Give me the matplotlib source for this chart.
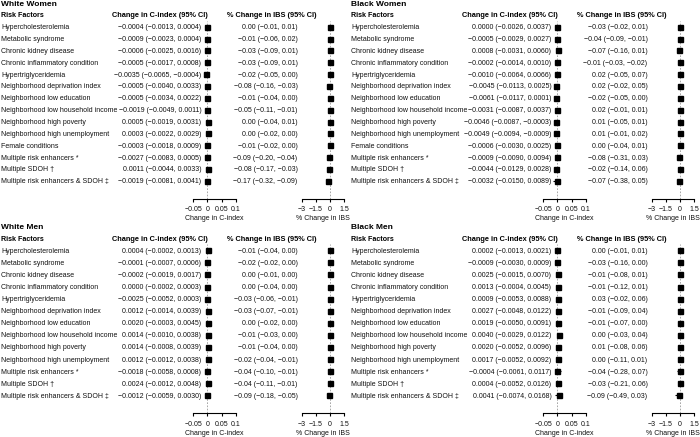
import matplotlib
matplotlib.use("Agg")
import matplotlib.pyplot as plt
from matplotlib.transforms import blended_transform_factory

plt.rcParams['font.family'] = ['Liberation Sans', 'DejaVu Sans']
plt.rcParams['axes.unicode_minus'] = True

# ---------------- data ----------------
women_factors = ["Hypercholesterolemia", "Metabolic syndrome", "Chronic kidney disease",
                 "Chronic inflammatory condition", "Hypertriglyceridemia",
                 "Neighborhood deprivation index", "Neighborhood low education",
                 "Neighborhood low household income", "Neighborhood high poverty",
                 "Neighborhood high unemployment", "Female conditions",
                 "Multiple risk enhancers *", "Multiple SDOH \u2020",
                 "Multiple risk enhancers & SDOH \u2021"]
men_factors = ["Hypercholesterolemia", "Metabolic syndrome", "Chronic kidney disease",
               "Chronic inflammatory condition", "Hypertriglyceridemia",
               "Neighborhood deprivation index", "Neighborhood low education",
               "Neighborhood low household income", "Neighborhood high poverty",
               "Neighborhood high unemployment",
               "Multiple risk enhancers *", "Multiple SDOH \u2020",
               "Multiple risk enhancers & SDOH \u2021"]

# White Women
ww_c = [-0.0004, -0.0009, -0.0006, -0.0005, -0.0035, -0.0005, -0.0005, -0.0019, 0.0005, 0.0003, -0.0003, -0.0027, 0.0011, -0.0019]
ww_c_lo = [-0.0013, -0.0023, -0.0025, -0.0017, -0.0065, -0.0040, -0.0034, -0.0049, -0.0019, -0.0022, -0.0018, -0.0083, -0.0044, -0.0081]
ww_c_hi = [0.0004, 0.0004, 0.0016, 0.0008, -0.0004, 0.0033, 0.0022, 0.0011, 0.0031, 0.0029, 0.0009, 0.0005, 0.0033, 0.0041]
ww_i = [0.00, -0.01, -0.03, -0.03, -0.02, -0.08, -0.01, -0.05, 0.00, 0.00, -0.01, -0.09, -0.08, -0.17]
ww_i_lo = [-0.01, -0.06, -0.09, -0.09, -0.05, -0.16, -0.04, -0.11, -0.04, -0.02, -0.02, -0.20, -0.17, -0.32]
ww_i_hi = [0.01, 0.02, 0.01, 0.01, 0.00, -0.03, 0.00, -0.01, 0.01, 0.00, 0.00, -0.04, -0.03, -0.09]

# Black Women
bw_c = [0.0000, -0.0005, 0.0008, -0.0002, -0.0010, -0.0045, -0.0061, -0.0031, -0.0046, -0.0049, -0.0006, -0.0009, -0.0044, -0.0032]
bw_c_lo = [-0.0026, -0.0029, -0.0031, -0.0014, -0.0064, -0.0113, -0.0117, -0.0087, -0.0087, -0.0094, -0.0030, -0.0090, -0.0129, -0.0150]
bw_c_hi = [0.0037, 0.0027, 0.0060, 0.0010, 0.0066, 0.0025, 0.0001, 0.0037, -0.0003, -0.0009, 0.0025, 0.0094, 0.0028, 0.0089]
bw_i = [-0.03, -0.04, -0.07, -0.01, 0.02, 0.02, -0.02, 0.02, 0.01, 0.01, 0.00, -0.08, -0.02, -0.07]
bw_i_lo = [-0.02, -0.09, -0.16, -0.03, -0.05, -0.02, -0.05, -0.01, -0.05, -0.01, -0.04, -0.31, -0.14, -0.38]
bw_i_hi = [0.01, -0.01, 0.01, -0.02, 0.07, 0.05, 0.00, 0.01, 0.01, 0.02, 0.01, 0.03, 0.06, 0.05]

# White Men
wm_c = [0.0004, -0.0001, -0.0002, 0.0000, -0.0025, 0.0012, 0.0020, 0.0014, 0.0014, 0.0012, -0.0018, 0.0024, -0.0012]
wm_c_lo = [-0.0002, -0.0007, -0.0019, -0.0002, -0.0052, -0.0014, -0.0003, -0.0010, -0.0008, -0.0012, -0.0058, -0.0012, -0.0059]
wm_c_hi = [0.0013, 0.0006, 0.0017, 0.0003, 0.0003, 0.0039, 0.0045, 0.0038, 0.0039, 0.0038, 0.0008, 0.0048, 0.0030]
wm_i = [-0.01, -0.02, 0.00, 0.00, -0.03, -0.03, 0.00, -0.01, -0.01, -0.02, -0.04, -0.04, -0.09]
wm_i_lo = [-0.04, -0.02, -0.01, -0.04, -0.06, -0.07, -0.02, -0.03, -0.04, -0.04, -0.10, -0.11, -0.18]
wm_i_hi = [0.00, 0.00, 0.00, 0.00, -0.01, -0.01, 0.00, 0.00, 0.00, -0.01, -0.01, -0.01, -0.05]

# Black Men
bm_c = [0.0002, -0.0009, 0.0025, 0.0013, 0.0009, 0.0027, 0.0019, 0.0040, 0.0020, 0.0017, -0.0004, 0.0004, 0.0041]
bm_c_lo = [-0.0013, -0.0030, -0.0015, -0.0004, -0.0053, -0.0048, -0.0050, -0.0029, -0.0052, -0.0052, -0.0061, -0.0052, -0.0074]
bm_c_hi = [0.0021, 0.0009, 0.0070, 0.0045, 0.0088, 0.0122, 0.0091, 0.0122, 0.0096, 0.0092, 0.0117, 0.0126, 0.0168]
bm_i = [0.00, -0.03, -0.01, -0.01, 0.03, -0.01, -0.01, 0.00, 0.01, 0.00, -0.04, -0.03, -0.09]
bm_i_lo = [-0.01, -0.16, -0.08, -0.12, -0.02, -0.09, -0.07, -0.03, -0.08, -0.11, -0.28, -0.21, -0.49]
bm_i_hi = [0.01, 0.00, 0.01, 0.01, 0.06, 0.04, 0.00, 0.04, 0.06, 0.01, 0.07, 0.06, 0.03]

c_ticks = [-0.05, 0, 0.05, 0.1]
c_ticklabels = ["\u22120.05", "0", "0.05", "0.1"]
i_ticks = [-3, -1.5, 0, 1.5]
i_ticklabels = ["\u22123", "\u22121.5", "0", "1.5"]

# ---------------- drawing ----------------
W, H = 700, 437
fig = plt.figure(figsize=(7, 4.37), dpi=100)
FS = 5.0
FSH = 5.35
TXT = "#111111"


def fx(px):
    return px / W


def fy(py):
    return 1 - py / H


def fmt(v, d):
    if abs(v) < 10 ** (-d) / 2:
        v = 0.0
    return f"{v:.{d}f}".replace("-", "\u2212")


def style_axis(ax, xlim, ticks, ticklabels, xlabel):
    ax.set_xlim(*xlim)
    ax.patch.set_visible(False)
    for s in ("top", "left", "right"):
        ax.spines[s].set_visible(False)
    ax.spines["bottom"].set_linewidth(0.8)
    ax.set_yticks([])
    ax.set_xticks(ticks)
    ax.set_xticklabels(ticklabels)
    ax.tick_params(axis="x", direction="out", length=2.4, width=0.8,
                   labelsize=FS, pad=3.2, labelcolor=TXT)
    ax.set_xlabel(xlabel, fontsize=FS, labelpad=1.2, color=TXT)
    ax.axvline(0, color="#999999", ls=(0, (2.0, 1.8)), lw=0.6, zorder=1)


def panel(title, labels, c, c_lo, c_hi, iv, i_lo, i_hi, xo, row0, sp):
    n = len(labels)
    top_px = row0 - 0.5 * sp
    bot_px = row0 + (n + 0.5) * sp
    h = (bot_px - top_px) / H
    ax1 = fig.add_axes([fx(193.3 + xo), fy(bot_px), fx(235.7 - 193.3), h])
    ax2 = fig.add_axes([fx(301.7 + xo), fy(bot_px), fx(344.3 - 301.7), h])
    for ax in (ax1, ax2):
        ax.set_ylim(n + 0.5, -0.5)
    style_axis(ax1, (-0.05, 0.1), c_ticks, c_ticklabels, "Change in C-index")
    style_axis(ax2, (-3, 1.5), i_ticks, i_ticklabels, "% Change in IBS")

    rows = list(range(n))
    ax1.hlines(rows, c_lo, c_hi, color="black", lw=0.8, zorder=2)
    ax1.plot(c, rows, "s", color="black", ms=3.6, zorder=3)
    ax2.hlines(rows, i_lo, i_hi, color="black", lw=0.8, zorder=2)
    ax2.plot(iv, rows, "s", color="black", ms=3.6, zorder=3)

    tr = blended_transform_factory(fig.transFigure, ax1.transData)
    va = "center_baseline"
    ax1.text(fx(1 + xo), -2, title, transform=tr, fontsize=6.0,
             fontweight="bold", va=va, ha="left")
    ax1.text(fx(1 + xo), -1, "Risk Factors", transform=tr, fontsize=5.1,
             fontweight="bold", va=va, ha="left")
    ax1.text(fx(112 + xo), -1, "Change in C-index (95% CI)", transform=tr,
             fontsize=FSH, fontweight="bold", va=va, ha="left")
    ax1.text(fx(227 + xo), -1, "% Change in IBS (95% CI)", transform=tr,
             fontsize=FSH, fontweight="bold", va=va, ha="left")
    for k in range(n):
        ax1.text(fx(1 + xo), k, labels[k], transform=tr, fontsize=FS,
                 va=va, ha="left", color=TXT)
        ax1.text(fx(201.5 + xo), k,
                 f"{fmt(c[k], 4)} ({fmt(c_lo[k], 4)}, {fmt(c_hi[k], 4)})",
                 transform=tr, fontsize=FS, va=va, ha="right", color=TXT)
        ax1.text(fx(297.5 + xo), k,
                 f"{fmt(iv[k], 2)} ({fmt(i_lo[k], 2)}, {fmt(i_hi[k], 2)})",
                 transform=tr, fontsize=FS, va=va, ha="right", color=TXT)


panel("White Women", women_factors, ww_c, ww_c_lo, ww_c_hi, ww_i, ww_i_lo, ww_i_hi, 0, 26.7, 11.85)
panel("Black Women", women_factors, bw_c, bw_c_lo, bw_c_hi, bw_i, bw_i_lo, bw_i_hi, 350, 26.7, 11.85)
panel("White Men", men_factors, wm_c, wm_c_lo, wm_c_hi, wm_i, wm_i_lo, wm_i_hi, 0, 250.3, 12.08)
panel("Black Men", men_factors, bm_c, bm_c_lo, bm_c_hi, bm_i, bm_i_lo, bm_i_hi, 350, 250.3, 12.08)

fig.savefig("out.png", dpi=100, facecolor="white")
